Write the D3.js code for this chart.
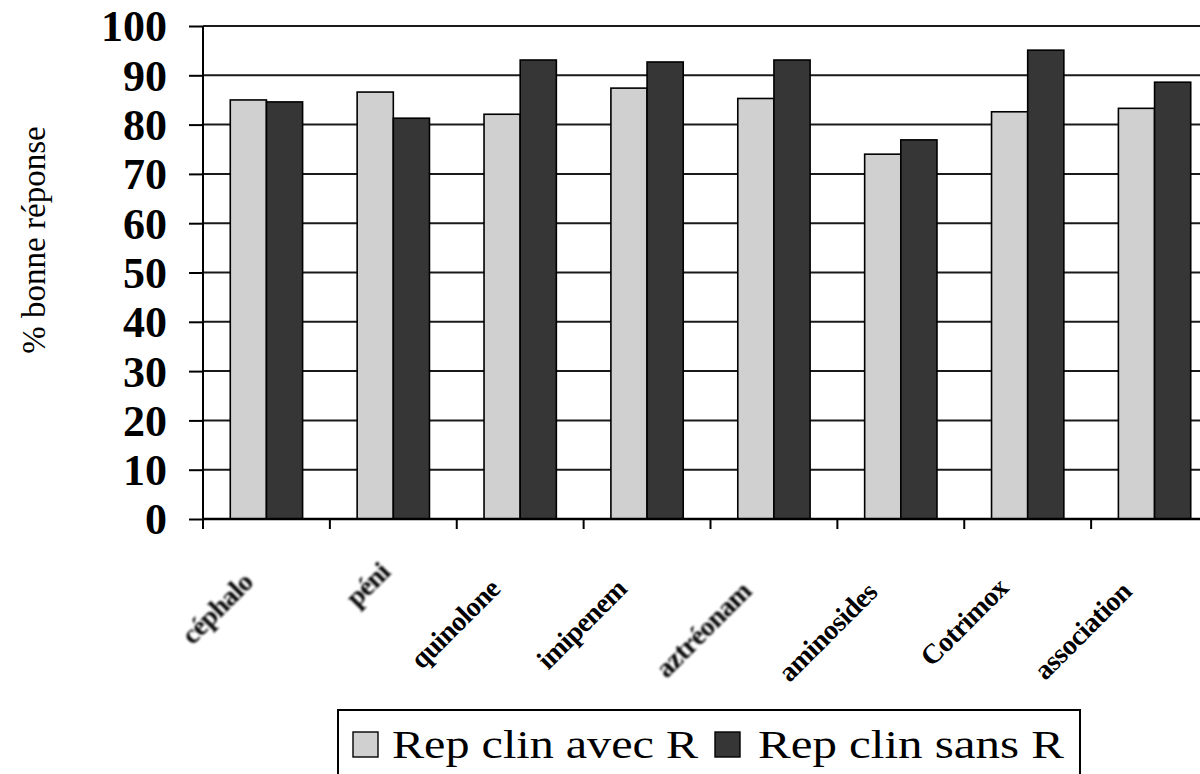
<!DOCTYPE html>
<html>
<head>
<meta charset="utf-8">
<script src="https://cdn.jsdelivr.net/npm/d3@7"></script>
<style>
  html, body { margin: 0; padding: 0; background: #fff; }
  svg { display: block; }
</style>
</head>
<body>
<svg id="chart" width="1200" height="774"></svg>
<script>
// Antibiotic classes on the x axis
const categories = ["céphalo", "péni", "quinolone", "imipenem", "aztréonam", "aminosides", "Cotrimox", "association"];
// % correct answers, with and without clinical response
const avecR = [85.0, 86.6, 82.1, 87.4, 85.3, 74.0, 82.6, 83.3];
const sansR = [84.6, 81.3, 93.1, 92.7, 93.1, 76.9, 95.1, 88.6];
const seriesNames = ["Rep clin avec R", "Rep clin sans R"];
const yTicks = [0, 10, 20, 30, 40, 50, 60, 70, 80, 90, 100];
const yTitle = "% bonne réponse";
// labels rendered from a scanned, slightly fuzzy source
const fuzzyLabels = ["céphalo", "péni", "aztréonam"];

const colors = ["#d0d0d0", "#363636"];
const SERIF = "Liberation Serif, Times New Roman, Times, serif";

const svg = d3.select("#chart").attr("font-family", SERIF);
const plot = { left: 203, right: 1218, top: 26, bottom: 519 };

const x = d3.scaleBand().domain(categories).range([plot.left, plot.right]).paddingInner(0.43).paddingOuter(0.215);
const xSub = d3.scaleBand().domain([0, 1]).range([0, x.bandwidth()]);
const y = d3.scaleLinear().domain([0, 100]).range([plot.bottom, plot.top]);

const defs = svg.append("defs");
defs.append("filter").attr("id", "soft")
  .append("feGaussianBlur").attr("stdDeviation", 0.8);

// horizontal gridlines
svg.append("g").selectAll("line").data(yTicks.filter(d => d > 0)).join("line")
  .attr("x1", plot.left).attr("x2", 1200)
  .attr("y1", d => y(d)).attr("y2", d => y(d))
  .attr("stroke", "#1a1a1a").attr("stroke-width", 2);

// bars
const rows = categories.map((c, i) => ({ c, v: [avecR[i], sansR[i]] }));
const groups = svg.append("g").selectAll("g").data(rows).join("g")
  .attr("transform", d => `translate(${x(d.c)},0)`);
groups.selectAll("rect").data(d => d.v.map((v, k) => ({ v, k }))).join("rect")
  .attr("x", d => xSub(d.k))
  .attr("width", xSub.bandwidth())
  .attr("y", d => y(d.v))
  .attr("height", d => y(0) - y(d.v))
  .attr("fill", d => colors[d.k])
  .attr("stroke", "#000").attr("stroke-width", 1.6);

// y axis
const yAxis = svg.append("g").attr("transform", `translate(${plot.left},0)`)
  .call(d3.axisLeft(y).tickValues(yTicks).tickSize(14).tickPadding(22));
yAxis.select(".domain").attr("stroke", "#000").attr("stroke-width", 2)
  .attr("d", `M0,${plot.top}V${plot.bottom + 10}`);
yAxis.selectAll(".tick line").attr("stroke", "#000").attr("stroke-width", 2);
yAxis.selectAll(".tick text")
  .attr("font-family", SERIF)
  .attr("font-size", 44).attr("font-weight", "bold").attr("fill", "#000")
  .attr("dy", "0.34em");

// x axis: baseline with ticks at category boundaries
const xAxisG = svg.append("g");
xAxisG.append("line").attr("x1", plot.left).attr("x2", 1200)
  .attr("y1", plot.bottom).attr("y2", plot.bottom)
  .attr("stroke", "#000").attr("stroke-width", 2.4);
const boundaries = categories.map(c => x(c) - x.step() * x.paddingOuter());
xAxisG.selectAll("line.tk").data(boundaries).join("line").attr("class", "tk")
  .attr("x1", d => d).attr("x2", d => d)
  .attr("y1", plot.bottom).attr("y2", plot.bottom + 10)
  .attr("stroke", "#000").attr("stroke-width", 2);

// rotated category labels
const labG = svg.append("g");
categories.forEach(c => {
  const cx = x(c) + x.bandwidth() / 2;
  const g = labG.append("g").attr("transform", `translate(${cx + 11},561) rotate(-45)`);
  const t = g.append("text")
    .attr("text-anchor", "end")
    .attr("font-family", SERIF)
    .attr("font-size", 28).attr("font-weight", "bold").attr("fill", "#000")
    .attr("letter-spacing", -0.6)
    .text(c);
  const L = t.node().getComputedTextLength();
  t.attr("x", -0.37 * L);
  if (fuzzyLabels.includes(c)) t.attr("filter", "url(#soft)");
});

// y axis title
svg.append("text")
  .attr("transform", "translate(45,240) rotate(-90)")
  .attr("text-anchor", "middle")
  .attr("font-family", SERIF)
  .attr("font-size", 33).attr("fill", "#000")
  .text(yTitle);

// legend
const leg = svg.append("g");
leg.append("rect").attr("x", 338).attr("y", 710).attr("width", 742).attr("height", 90)
  .attr("fill", "#fff").attr("stroke", "#000").attr("stroke-width", 2);
const legItems = [{ sx: 353, tx: 392 }, { sx: 715, tx: 758 }];
seriesNames.forEach((name, k) => {
  leg.append("rect").attr("x", legItems[k].sx).attr("y", 732).attr("width", 25).attr("height", 25)
    .attr("fill", colors[k]).attr("stroke", "#000").attr("stroke-width", 1.4);
  leg.append("text").attr("x", legItems[k].tx).attr("y", 758)
    .attr("font-family", SERIF)
    .attr("font-size", 40).attr("fill", "#000")
    .attr("textLength", 306).attr("lengthAdjust", "spacingAndGlyphs")
    .text(name);
});
</script>
</body>
</html>
